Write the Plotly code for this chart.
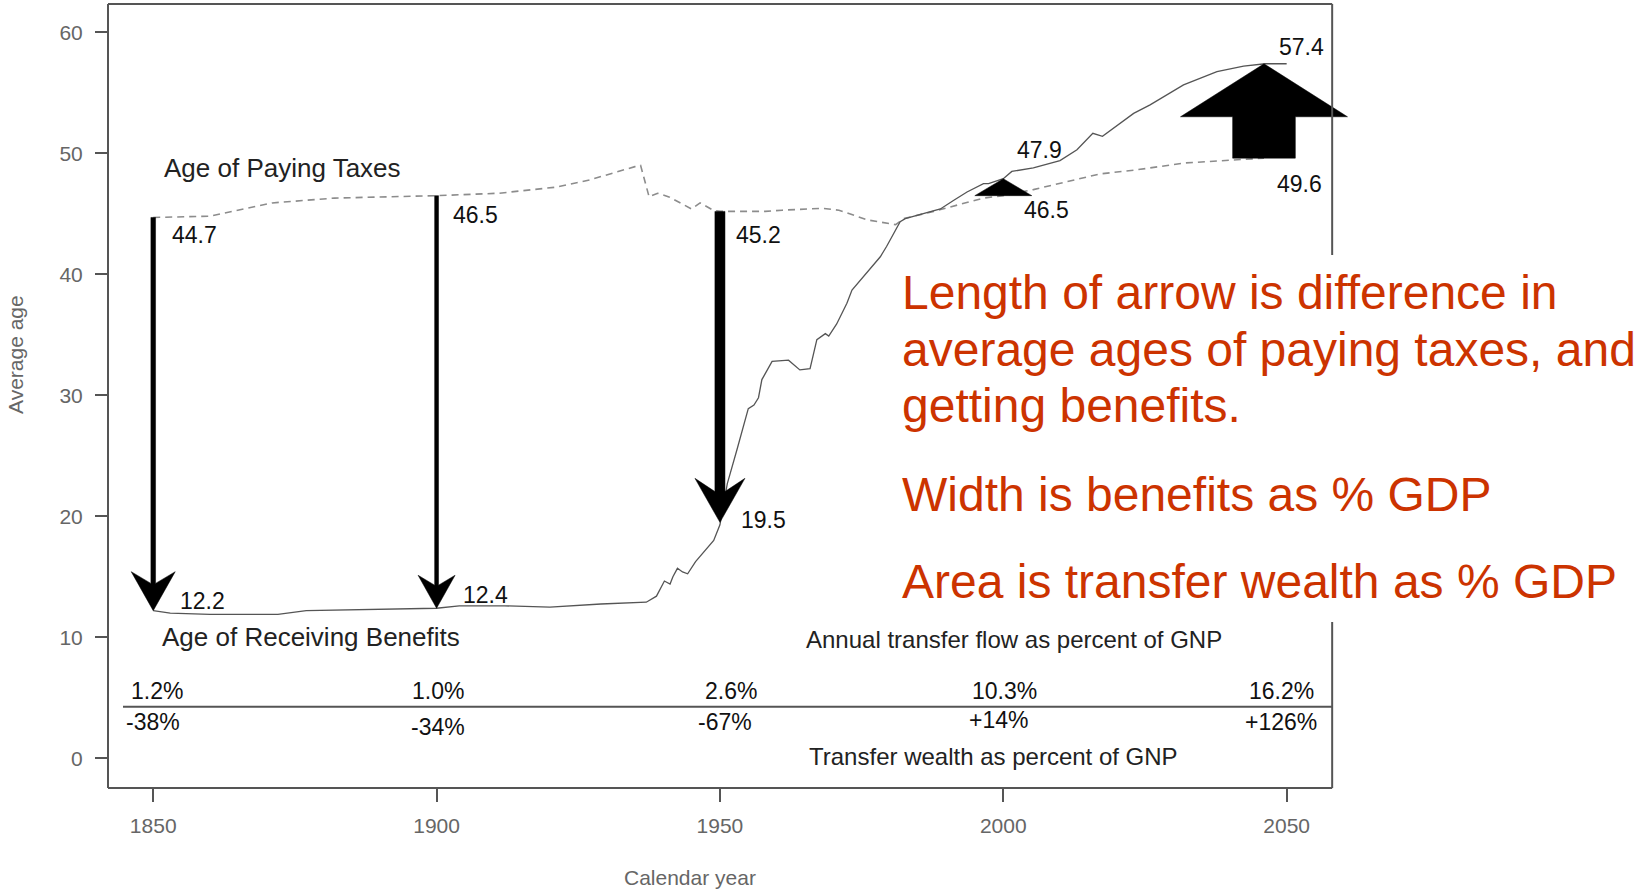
import plotly.graph_objects as go

# ---------------- data ----------------
# Average age of paying taxes (dashed line)
tax_years = [1850, 1860, 1871, 1882, 1900, 1911, 1921, 1927, 1935, 1936, 1937.5, 1939, 1941,
             1945, 1946.5, 1948.8, 1950, 1954, 1958, 1961, 1968, 1971, 1976, 1981, 1982.4,
             1987.7, 1993.6, 1996.5, 2000, 2005.3, 2011.2, 2017.1, 2023, 2032, 2046]
tax_ages = [44.7, 44.8, 45.9, 46.3, 46.5, 46.7, 47.2, 47.8, 48.9, 49.0, 46.4, 46.7, 46.4,
            45.4, 45.9, 45.3, 45.2, 45.2, 45.2, 45.3, 45.45, 45.3, 44.5, 44.1, 44.6,
            45.2, 45.9, 46.3, 46.5, 47.0, 47.65, 48.3, 48.6, 49.2, 49.6]

# Average age of receiving benefits (solid line)
ben_years = [1850, 1853, 1860, 1872, 1877, 1888, 1900, 1904, 1912, 1920, 1929, 1937, 1938.8,
             1940.2, 1941.2, 1941.7, 1942.5, 1943.4, 1944.3, 1945.7, 1948.9, 1950, 1951.3,
             1953, 1954, 1955, 1956, 1956.8, 1957.4, 1959.2, 1962.1, 1964.1, 1965.9, 1967.1,
             1968.6, 1969.2, 1970.6, 1972.4, 1973.3, 1975.3, 1978.3, 1979.4, 1981.8, 1982.7,
             1987.7, 1988.9, 1991.2, 1993.6, 1996.5, 1997.4, 2000, 2001.5, 2005.3, 2010,
             2013, 2015.8, 2017.5, 2023, 2025.9, 2031.8, 2037.7, 2042.4, 2046.2, 2050]
ben_ages = [12.2, 12.0, 11.9, 11.9, 12.2, 12.3, 12.4, 12.6, 12.6, 12.5, 12.75, 12.9, 13.4,
            14.65, 14.4, 15.0, 15.7, 15.4, 15.25, 16.25, 18.0, 19.3, 22.7,
            25.5, 27.1, 28.9, 29.2, 29.8, 31.3, 32.8, 32.9, 32.1, 32.2, 34.6,
            35.1, 34.9, 35.9, 37.6, 38.7, 39.8, 41.45, 42.3, 44.35, 44.6,
            45.2, 45.4, 46.1, 46.8, 47.5, 47.5, 47.9, 48.5, 48.8, 49.4,
            50.3, 51.65, 51.4, 53.3, 54.0, 55.65, 56.75, 57.2, 57.4, 57.4]

# Arrows
arrow_years = [1850, 1900, 1950, 2000, 2046]
arrow_tax = [44.7, 46.5, 45.2, 46.5, 49.6]
arrow_ben = [12.2, 12.4, 19.5, 47.9, 57.4]

# Table
table_years = [1850, 1900, 1950, 2000, 2050]
flow_pct = [1.2, 1.0, 2.6, 10.3, 16.2]      # annual transfer flow, % of GNP
wealth_pct = [-38, -34, -67, 14, 126]       # transfer wealth, % of GNP

x_ticks = [1850, 1900, 1950, 2000, 2050]
y_ticks = [0, 10, 20, 30, 40, 50, 60]

notes = ["Length of arrow is difference in",
         "average ages of paying taxes, and",
         "getting benefits.",
         "Width is benefits as % GDP",
         "Area is transfer wealth as % GDP"]

# ---------------- styles / geometry ----------------
FONT = "Liberation Sans, Arial, Helvetica, sans-serif"
W, H_FIG = 1638, 893
PX_PER_YEAR = 5.6665
PX_PER_AGE = 12.1
SHAFT_PX_PER_PCT = 3.87
head_w_px = [44, 37, 50, 57, 167]
head_len_px = [39, 33, 44, 40, 53]
notch_frac = [0.3, 0.3, 0.3, 0.0, 0.0]

tax_lab_shift = [(17, -18), (14, -19), (14, -24), (19, -14), (11, -26)]
ben_lab_shift = [(25, 10), (24, 13), (19, 2), (12, 29), (13, 17)]
flow_xshift = [4, 1, 11, 1, -5]
wealth_shift = [(0, 0), (1, -5), (5, 0), (-5, 2), (-6, 0)]

FRAME_X = [1842.02, 2058.03]          # framed data window
X_RANGE = [1842.02, 2067.0]           # axis range (extra room so the big arrow is not clipped)
Y_RANGE = [-2.455, 62.34]

M_LEFT, M_TOP = 108, 4
PLOT_W = (X_RANGE[1] - X_RANGE[0]) * PX_PER_YEAR
PLOT_H = (Y_RANGE[1] - Y_RANGE[0]) * PX_PER_AGE
M_RIGHT = W - M_LEFT - PLOT_W
M_BOTTOM = H_FIG - M_TOP - PLOT_H
FR = (FRAME_X[1] - X_RANGE[0]) / (X_RANGE[1] - X_RANGE[0])   # frame right edge in paper units


def px_x(px):
    return (px - M_LEFT) / PLOT_W


def px_y(py):
    return (M_TOP + PLOT_H - py) / PLOT_H


def arrow_polygon(x, t, b, shaft_px, hw_px, hl_px, nf):
    w = shaft_px / 2 / PX_PER_YEAR
    H = hw_px / 2 / PX_PER_YEAR
    L = hl_px / PX_PER_AGE
    d = 1 if b > t else -1
    if L >= abs(b - t):
        return [x - H, x + H, x, x - H], [t, t, b, t]
    back = b - d * L
    n = nf * L
    xs = [x - w, x + w, x + w, x + H, x, x - H, x - w, x - w]
    ys = [t, t, back + d * n, back, b, back, back + d * n, t]
    return xs, ys


fig = go.Figure()

fig.add_trace(go.Scatter(x=tax_years, y=tax_ages, mode="lines",
                         line=dict(color="#8c8c8c", width=1.6, dash="7px,5px"),
                         hoverinfo="skip", showlegend=False))
fig.add_trace(go.Scatter(x=ben_years, y=ben_ages, mode="lines",
                         line=dict(color="#555555", width=1.3),
                         hoverinfo="skip", showlegend=False))

for i, yr in enumerate(arrow_years):
    xs, ys = arrow_polygon(yr, arrow_tax[i], arrow_ben[i], flow_pct[i] * SHAFT_PX_PER_PCT,
                           head_w_px[i], head_len_px[i], notch_frac[i])
    fig.add_trace(go.Scatter(x=xs, y=ys, mode="lines", fill="toself", fillcolor="black",
                             line=dict(color="black", width=0.5),
                             hoverinfo="skip", showlegend=False))

annotations = []
num_font = dict(family=FONT, size=23, color="#111111")
for i, yr in enumerate(arrow_years):
    annotations.append(dict(x=yr, y=arrow_tax[i], xref="x", yref="y", text=f"{arrow_tax[i]:.1f}",
                            showarrow=False, xanchor="left", yanchor="middle",
                            xshift=tax_lab_shift[i][0], yshift=tax_lab_shift[i][1], font=num_font))
    annotations.append(dict(x=yr, y=arrow_ben[i], xref="x", yref="y", text=f"{arrow_ben[i]:.1f}",
                            showarrow=False, xanchor="left", yanchor="middle",
                            xshift=ben_lab_shift[i][0], yshift=ben_lab_shift[i][1], font=num_font))

for i, yr in enumerate(table_years):
    annotations.append(dict(x=yr, y=5.58, xref="x", yref="y", text=f"{flow_pct[i]:.1f}%",
                            showarrow=False, xanchor="center", yanchor="middle",
                            xshift=flow_xshift[i], font=num_font))
    annotations.append(dict(x=yr, y=3.0, xref="x", yref="y", text=f"{wealth_pct[i]:+d}%",
                            showarrow=False, xanchor="center", yanchor="middle",
                            xshift=wealth_shift[i][0], yshift=wealth_shift[i][1], font=num_font))

lab_font = dict(family=FONT, size=26, color="#222222")
small_font = dict(family=FONT, size=24, color="#222222")
annotations += [
    dict(x=1851.5, y=48.8, xref="x", yref="y", text="Age of Paying Taxes", showarrow=False,
         xanchor="left", yanchor="middle", font=lab_font),
    dict(x=1851.2, y=10.02, xref="x", yref="y", text="Age of Receiving Benefits", showarrow=False,
         xanchor="left", yanchor="middle", font=lab_font),
    dict(x=1964.8, y=9.78, xref="x", yref="y", text="Annual transfer flow as percent of GNP",
         showarrow=False, xanchor="left", yanchor="middle", font=small_font),
    dict(x=1965.3, y=0.19, xref="x", yref="y", text="Transfer wealth as percent of GNP",
         showarrow=False, xanchor="left", yanchor="middle", font=small_font),
    dict(x=px_x(16), y=px_y(354), xref="paper", yref="paper", text="Average age",
         textangle=-90, showarrow=False, xanchor="center", yanchor="middle",
         font=dict(family=FONT, size=21, color="#666666")),
    dict(x=px_x(690), y=px_y(878), xref="paper", yref="paper", text="Calendar year",
         showarrow=False, xanchor="center", yanchor="middle",
         font=dict(family=FONT, size=21, color="#666666")),
]

note_y_px = [293, 350, 406, 495, 582]
for txt, ypx in zip(notes, note_y_px):
    annotations.append(dict(x=px_x(900), y=px_y(ypx), xref="paper", yref="paper",
                            text=txt, showarrow=False, xanchor="left", yanchor="middle",
                            font=dict(family=FONT, size=48, color="#CC3300")))

frame_line = dict(color="#555555", width=2)
shapes = [
    # plot frame (paper units, not clipped)
    dict(type="line", xref="paper", yref="paper", x0=0, x1=0, y0=0, y1=1, line=frame_line, layer="above"),
    dict(type="line", xref="paper", yref="paper", x0=0, x1=FR, y0=0, y1=0, line=frame_line, layer="above"),
    dict(type="line", xref="paper", yref="paper", x0=0, x1=FR, y0=1, y1=1, line=frame_line, layer="above"),
    dict(type="line", xref="paper", yref="paper", x0=FR, x1=FR, y0=0, y1=1, line=frame_line, layer="above"),
    # white panel behind the red notes (hides part of the right frame)
    dict(type="rect", xref="paper", yref="paper", x0=px_x(892), x1=FR + 0.01,
         y0=px_y(622), y1=px_y(255), fillcolor="white", line=dict(width=0), layer="above"),
    # table divider line
    dict(type="line", xref="paper", yref="y", x0=px_x(123), x1=FR, y0=4.26, y1=4.26,
         line=frame_line, layer="above"),
]

axis_common = dict(showgrid=False, zeroline=False, showline=False, ticks="outside",
                   tickcolor="#555555", tickwidth=1.5,
                   tickfont=dict(family=FONT, size=21, color="#666666"))

fig.update_layout(
    width=W, height=H_FIG,
    margin=dict(l=M_LEFT, r=M_RIGHT, t=M_TOP, b=M_BOTTOM, pad=0),
    paper_bgcolor="white", plot_bgcolor="white",
    showlegend=False,
    xaxis=dict(range=X_RANGE, tickvals=x_ticks, ticklen=13, ticklabelstandoff=6, **axis_common),
    yaxis=dict(range=Y_RANGE, tickvals=y_ticks, ticklen=12, ticklabelstandoff=8, **axis_common),
    annotations=annotations,
    shapes=shapes,
)

fig.write_html("out.html", config={"displayModeBar": False},
               post_script="document.body.style.margin='0';document.body.style.padding='0';")
